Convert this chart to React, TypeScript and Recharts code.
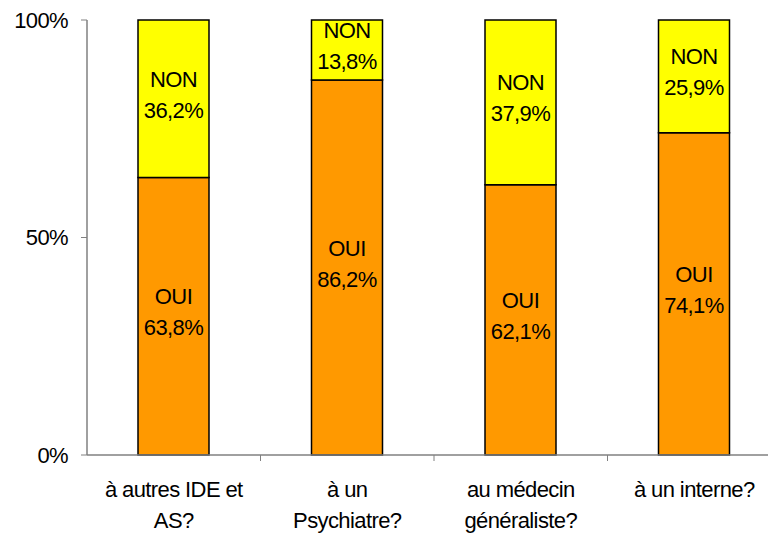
import { BarChart, Bar, XAxis, YAxis, LabelList } from 'recharts'

const CATEGORIES = ['à autres IDE et\nAS?', 'à un\nPsychiatre?', 'au médecin\ngénéraliste?', 'à un interne?']
const OUI = [63.8, 86.2, 62.1, 74.1]
const NON = [36.2, 13.8, 37.9, 25.9]
const Y_TICKS = [0, 50, 100]

const DATA = CATEGORIES.map((name, i) => ({ name, oui: OUI[i], non: NON[i] }))

const FONT = '"Liberation Sans", Arial, sans-serif'
const CHART_W = 790
const MARGIN = { top: 20, right: 9, left: 0, bottom: 0 }
const Y_W = 87
const STEP = (CHART_W - MARGIN.left - MARGIN.right - Y_W) / CATEGORIES.length

const fmt = (v: number) => v.toFixed(1).replace('.', ',') + '%'

function SegmentLabel(label: string) {
    return (props: any) => {
        const { x, y, width, height, value } = props
        const cx = x + width / 2
        const cy = y + height / 2 - 4
        return (
            <text x={cx} textAnchor="middle" fontSize={22} letterSpacing={-0.6} fontFamily={FONT} fill="#000">
                <tspan x={cx} y={cy - 8}>{label}</tspan>
                <tspan x={cx} y={cy + 23}>{fmt(value)}</tspan>
            </text>
        )
    }
}

function CategoryTick(props: any) {
    const { x, y, payload } = props
    const lines = String(payload.value).split('\n')
    return (
        <g>
            <line x1={x + STEP / 2} y1={y - 8} x2={x + STEP / 2} y2={y - 2} stroke="#808080" strokeWidth={1} />
            <text x={x} textAnchor="middle" fontSize={22} letterSpacing={-0.6} fontFamily={FONT} fill="#000">
                {lines.map((l, i) => (
                    <tspan key={i} x={x} y={y + 34 + i * 31}>{l}</tspan>
                ))}
            </text>
        </g>
    )
}

export default function App() {
    return (
        <div style={{ position: 'absolute', left: 0, top: 0, width: 768, height: 534, overflow: 'hidden', background: '#fff' }}>
            <BarChart width={CHART_W} height={534} data={DATA} margin={MARGIN} barCategoryGap={0}>
                <XAxis
                    dataKey="name"
                    height={79}
                    axisLine={{ stroke: '#808080', strokeWidth: 1.5 }}
                    tickLine={false}
                    tick={<CategoryTick />}
                    interval={0}
                />
                <YAxis
                    width={Y_W}
                    domain={[0, 100]}
                    ticks={Y_TICKS}
                    tickFormatter={(v) => `${v}%`}
                    axisLine={{ stroke: '#808080', strokeWidth: 1.5 }}
                    tickLine={{ stroke: '#808080' }}
                    tickSize={6}
                    tickMargin={13}
                    tick={{ fontSize: 22, letterSpacing: -0.6, fontFamily: FONT, fill: '#000' }}
                />
                <Bar dataKey="oui" stackId="a" fill="#FF9900" stroke="#000" strokeWidth={1.5} barSize={71} isAnimationActive={false}>
                    <LabelList dataKey="oui" content={SegmentLabel('OUI')} />
                </Bar>
                <Bar dataKey="non" stackId="a" fill="#FFFF00" stroke="#000" strokeWidth={1.5} barSize={71} isAnimationActive={false}>
                    <LabelList dataKey="non" content={SegmentLabel('NON')} />
                </Bar>
            </BarChart>
        </div>
    )
}
